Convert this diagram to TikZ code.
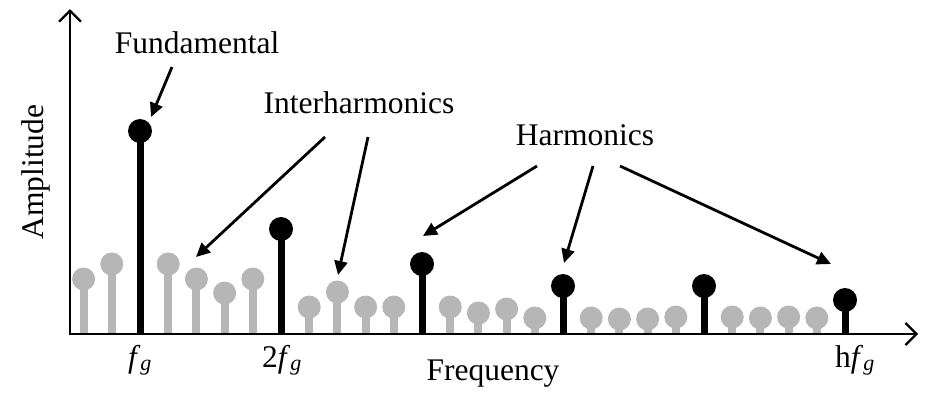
\documentclass[tikz,border=0pt]{standalone}
\usepackage{fontspec}
\setmainfont{Liberation Serif}
\usetikzlibrary{arrows.meta}
\definecolor{stemgray}{RGB}{182,182,182}
\begin{document}
\begin{tikzpicture}[x=1pt,y=-1pt,
  font=\fontsize{31.5}{36}\selectfont,
  gstem/.style={stemgray, line width=8pt},
  bstem/.style={black, line width=7pt},
  gdot/.style={circle, fill=stemgray, inner sep=0pt, minimum size=23pt},
  bdot/.style={circle, fill=black, inner sep=0pt, minimum size=24pt},
  axisline/.style={line width=2.3pt, {Straight Barb[length=11pt,width=22pt]}-{Straight Barb[length=11pt,width=22pt]}},
  callout/.style={line width=2.8pt, -{Triangle[length=14pt,width=13pt]}},
  lbl/.style={inner sep=0pt, anchor=base}]
\useasboundingbox (0,0) rectangle (936,408);

% gray interharmonic stems
\foreach \k/\h in {0/279, 1/264, 3/264, 4/279, 5/293, 6/279,
                   8/307, 9/292, 10/307, 11/307,
                   13/307, 14/313, 15/309, 16/318,
                   18/318, 19/319, 20/319, 21/317,
                   23/317, 24/318, 25/317, 26/318}{
  \node[gdot] (g\k) at ({83.6+28.2*\k},\h) {};
  \coordinate (gb\k) at ({83.6+28.2*\k},334);
  \draw[gstem] (gb\k) -- ([yshift=3pt]g\k.south);
}
% black harmonic stems
\foreach \k/\h in {2/131, 7/229, 12/264, 17/286, 22/286, 27/300}{
  \node[bdot] (b\k) at ({83.6+28.2*\k},\h) {};
  \coordinate (bb\k) at ({83.6+28.2*\k},334);
  \draw[bstem] (bb\k) -- ([yshift=3pt]b\k.south);
}

% axes
\coordinate (ytop) at (70,9);
\coordinate (orig) at (70,334);
\coordinate (xend) at (918,334);
\draw[axisline] (ytop) -- (orig) -- (xend);

% labels
\node[lbl] (fund) at (197,53) {Fundamental};
\node[lbl] (inter) at (359,113) {Interharmonics};
\node[lbl] (harm) at (585,145) {Harmonics};
\node[lbl, rotate=90] (amp) at (43,172) {Amplitude};
\node[lbl] (freq) at (493,380) {Frequency};
\node[lbl] (t1) at (140,367) {\textit{f}\textsubscript{\textit{g}}};
\node[lbl] (t2) at (282,367) {2\textit{f}\textsubscript{\textit{g}}};
\node[lbl] (th) at (855,367) {h\textit{f}\textsubscript{\textit{g}}};

% callout arrows
\coordinate (fs) at (172,67);   \coordinate (fe) at (151,117);
\coordinate (i1s) at (325,137); \coordinate (i1e) at (196,257);
\coordinate (i2s) at (368,137); \coordinate (i2e) at (338,275);
\coordinate (h1s) at (537,166); \coordinate (h1e) at (423,236);
\coordinate (h2s) at (593,166); \coordinate (h2e) at (564,263);
\coordinate (h3s) at (620,166); \coordinate (h3e) at (831,264);
\draw[callout] (fs) -- (fe);
\draw[callout] (i1s) -- (i1e);
\draw[callout] (i2s) -- (i2e);
\draw[callout] (h1s) -- (h1e);
\draw[callout] (h2s) -- (h2e);
\draw[callout] (h3s) -- (h3e);
\end{tikzpicture}
\end{document}
